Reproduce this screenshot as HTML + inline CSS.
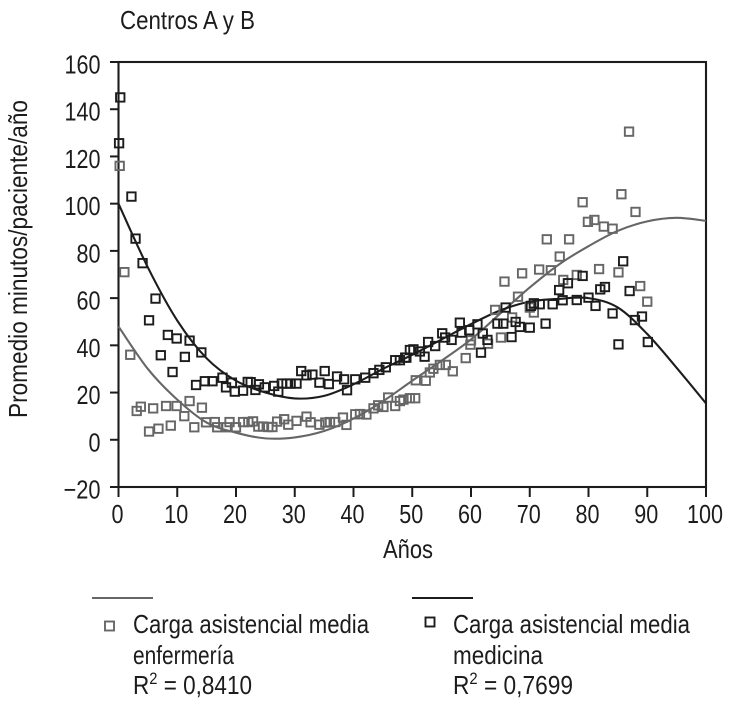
<!DOCTYPE html>
<html lang="es">
<head>
<meta charset="utf-8">
<title>Centros A y B</title>
<style>
html,body{margin:0;padding:0;background:#fff;}
svg{display:block;}
text{font-family:"Liberation Sans",sans-serif;font-size:26px;fill:#1c1c1c;}
</style>
</head>
<body>
<svg id="chart" width="730" height="702" viewBox="0 0 730 702" xmlns="http://www.w3.org/2000/svg">
  <rect width="730" height="702" fill="#fff"/>
  <text x="120" y="29" textLength="135" lengthAdjust="spacingAndGlyphs">Centros A y B</text>
  <text transform="translate(27,418) rotate(-90)" x="0" y="0" textLength="318" lengthAdjust="spacingAndGlyphs">Promedio minutos/paciente/año</text>
  <text x="383" y="558" textLength="50" lengthAdjust="spacingAndGlyphs">Años</text>
  <g id="plot"></g>
  <g>
    <line x1="92" x2="153" y1="598" y2="598" stroke="#666" stroke-width="2"/>
    <rect x="105" y="621.5" width="9" height="9" fill="none" stroke="#666" stroke-width="1.9"/>
    <text x="133" y="633" textLength="236" lengthAdjust="spacingAndGlyphs">Carga asistencial media</text>
    <text x="133" y="664" textLength="101" lengthAdjust="spacingAndGlyphs">enfermería</text>
    <text x="133" y="694" textLength="119" lengthAdjust="spacingAndGlyphs">R<tspan dy="-10" font-size="17">2</tspan><tspan dy="10"> = 0,8410</tspan></text>
  </g>
  <g>
    <line x1="412" x2="473" y1="598" y2="598" stroke="#1c1c1c" stroke-width="2"/>
    <rect x="425.5" y="617.5" width="9" height="9" fill="none" stroke="#1c1c1c" stroke-width="1.9"/>
    <text x="453" y="633" textLength="237" lengthAdjust="spacingAndGlyphs">Carga asistencial media</text>
    <text x="453" y="664" textLength="90" lengthAdjust="spacingAndGlyphs">medicina</text>
    <text x="453" y="694" textLength="120" lengthAdjust="spacingAndGlyphs">R<tspan dy="-10" font-size="17">2</tspan><tspan dy="10"> = 0,7699</tspan></text>
  </g>
</svg>
<script>
const xTicks = [0,10,20,30,40,50,60,70,80,90,100];
const yTicks = [-20,0,20,40,60,80,100,120,140,160];

const nurseAges = [0.2,1,2,3.1,3.8,5.2,6.8,5.9,8.1,8.9,9.9,11.2,12.1,12.9,14.2,14.9,16.4,16.8,18.4,18.9,20,21.2,22.1,22.9,23.8,24.6,25.5,26.2,27,28.2,28.9,30.3,32,32.7,34.2,35.2,36,36.9,38.2,38.8,40.3,41.1,42.2,43.4,44.2,45.1,45.9,47.1,47.9,48.5,49.6,50.5,50.6,52.3,53,53.6,54.7,55.7,56.9,59.1,59.9,60,62.9,65.1,64.1,67,68,65.7,70.7,70,75.7,88.8,90,86.9,85.6,79,88,79.9,81,82.6,84.1,72.9,76.7,75.1,71.6,73.6,68.7,81.8,85.1,78];
const nurseValues = [116,71,36,12.2,14,3.5,4.7,13.3,14.3,6,14.3,10,16.4,5.3,13.6,7.4,7.5,5.3,5.3,7.5,5.3,7.5,7.5,7.8,5.6,5.6,5.4,5.4,7.7,8.7,6.4,8,9.8,7.4,6.4,7.3,7.5,7.5,9.4,6.3,10.8,10.9,10.7,13.3,14.6,13.9,17.9,14.3,16.4,17,17.6,17.6,25.2,25,28.5,30.1,31.7,31.7,29,34.6,40.3,42.1,40.7,43.3,55,51.8,60.6,67,53.9,56,67.7,65.1,58.5,130.5,104,100.6,96.5,92.3,93.1,90.3,89.4,84.9,84.9,77.6,72.1,71.8,70.5,72.3,70.9,69.8];

const doctorAges = [0.3,0.1,2.2,2.9,4.1,6.3,5.2,8.4,9.9,12.1,7.2,11.3,14.1,9.2,13.2,14.7,16,17.7,18.3,19.3,19.8,21.2,22,22.5,23.3,23.9,24.9,26.5,27.2,27.8,28.6,29.3,30.3,31.1,32,33,34.2,35.1,35.8,37.2,38.4,38.9,40.3,42,43.4,44.4,45.5,47.1,47.9,49,48.8,49.6,50.2,51.3,52.1,52.7,53.9,55.1,55.6,56.7,58.1,58.4,59.7,61.1,62,62.8,61.7,66.9,64.5,65.5,65.9,67.6,68.3,70,72.7,70.2,70.7,71.7,73.9,75.6,78,80,81.2,84.1,87.9,89.1,85.1,90.1,75,76.5,82,82.8,87,79,85.9];
const doctorValues = [145,125.6,103,85.2,74.8,59.8,50.6,44.4,42.9,42,35.8,35.1,37,28.7,23.2,24.8,24.8,26.3,22.2,24.2,20.4,20.8,24.5,24.4,21.1,23.5,22.2,22.8,20.4,23.8,23.8,23.8,23.8,29.1,27.3,27.6,24.2,29.1,23.6,26.8,25.6,21,25.6,26.3,28.2,29.6,30.7,33.7,33.7,34.8,34.8,38,38.3,37.4,35.2,41.4,39.7,45.1,43.3,42.3,49.6,45.4,46.4,48.9,45,42.3,36.9,43.5,49.2,49.2,56,49.9,47.8,47.5,49.2,56.7,57.8,57.4,57.4,59.1,59.2,60.2,56.7,53.5,50.7,52.2,40.4,41.4,63.4,66.3,63.7,64.7,63,69.4,75.6];

const trendAges = [0,5,10,15,20,25,30,35,40,45,50,55,60,65,70,75,80,85,90,95,100];
const nurseTrend = [48,30,17,7.3,3,0.6,1,3.7,9,16.3,25,33.5,42.5,53.5,64.5,74.3,82,88.5,92.5,94,92.7];
const doctorTrend = [100,73,50.5,34.5,25,20,17.5,18.6,23.5,30,36,42.5,49,54.8,58.5,59.7,60,56,44.8,30.5,15.4];

const NS = "http://www.w3.org/2000/svg";
const plot = document.getElementById("plot");
const left = 118.5, right = 706, top_ = 62, bottom = 487;
const xMin = 0, xMax = 100, yMin = -20, yMax = 160;
function xScale(v){ return left + (v - xMin) / (xMax - xMin) * (right - left); }
function yScale(v){ return bottom - (v - yMin) / (yMax - yMin) * (bottom - top_); }

function make(tag, attrs){
  const el = document.createElementNS(NS, tag);
  for (const k in attrs) el.setAttribute(k, attrs[k]);
  plot.appendChild(el);
  return el;
}

function smoothPath(xs, ys){
  const p = xs.map((a, i) => [xScale(a), yScale(ys[i])]);
  let d = "M" + p[0][0] + " " + p[0][1];
  for (let i = 0; i < p.length - 1; i++) {
    const p0 = p[Math.max(i - 1, 0)], p1 = p[i], p2 = p[i + 1], p3 = p[Math.min(i + 2, p.length - 1)];
    d += " C" + (p1[0] + (p2[0] - p0[0]) / 6) + " " + (p1[1] + (p2[1] - p0[1]) / 6) + " " +
         (p2[0] - (p3[0] - p1[0]) / 6) + " " + (p2[1] - (p3[1] - p1[1]) / 6) + " " + p2[0] + " " + p2[1];
  }
  return d;
}

const INK = "#1c1c1c", GREY = "#666";

const frame = make("rect", {x:left, y:top_, width:right-left, height:bottom-top_, fill:"none", stroke:INK, "stroke-width":2.1});



yTicks.forEach(function(t){
  const y = yScale(t);
  const tick = make("line", {x1:110, x2:left, y1:y, y2:y, stroke:INK, "stroke-width":2});
  
  
  const label = make("text", {x:100.5, y:y+11.5, "text-anchor":"end", textLength:(t < 0 ? 37 : String(t).length * 12), lengthAdjust:"spacingAndGlyphs"});
  
  
  label.textContent = t < 0 ? "\u2212" + Math.abs(t) : String(t);
});

xTicks.forEach(function(t){
  const x = xScale(t);
  const tick = make("line", {x1:x, x2:x, y1:bottom, y2:497, stroke:INK, "stroke-width":2});
  
  
  const label = make("text", {x:x-1, y:523, "text-anchor":"middle", textLength:String(t).length * 12, lengthAdjust:"spacingAndGlyphs"});
  
  
  label.textContent = String(t);
});

const nurseLine = make("path", {d:smoothPath(trendAges, nurseTrend), fill:"none", stroke:GREY, "stroke-width":2.1});



const doctorLine = make("path", {d:smoothPath(trendAges, doctorTrend), fill:"none", stroke:INK, "stroke-width":2.1});



nurseAges.forEach(function(a, i){
  const m = make("rect", {x:xScale(a)-4.2, y:yScale(nurseValues[i])-4.2, width:8.4, height:8.4, fill:"none", stroke:GREY, "stroke-width":1.9});
  
  
});

doctorAges.forEach(function(a, i){
  const m = make("rect", {x:xScale(a)-4.2, y:yScale(doctorValues[i])-4.2, width:8.4, height:8.4, fill:"none", stroke:INK, "stroke-width":1.9});
  
  
});
</script>
</body>
</html>
